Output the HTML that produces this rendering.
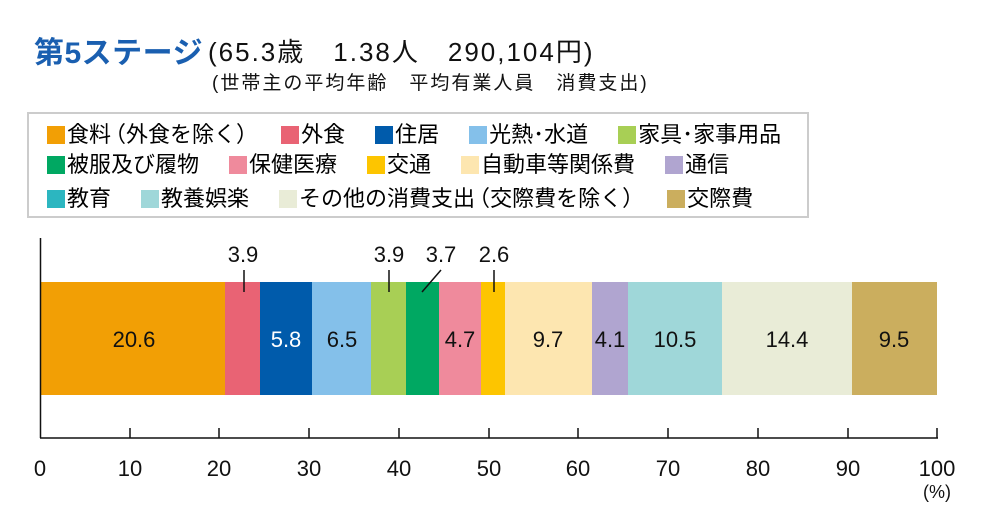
<!DOCTYPE html>
<html><head><meta charset="utf-8"><style>
body{margin:0;width:1000px;height:530px;background:#fff;font-family:"Liberation Sans","Noto Sans CJK JP",sans-serif;overflow:hidden;position:relative}
.t{position:absolute;white-space:nowrap;color:#111}
.lg{position:absolute;left:27px;top:112px;width:782px;height:106px;border:2px solid #ccc;box-sizing:border-box}
.row{position:absolute;left:18px;font-size:22px;white-space:nowrap;line-height:24px}
.row>span{display:inline-block;margin-right:30px}
.row i{display:inline-block;width:18px;height:18px;vertical-align:-2px;margin-right:2px}
.l{font-family:"Noto Sans CJK JP",sans-serif;margin-left:-7px}
.r{font-family:"Noto Sans CJK JP",sans-serif;margin-right:-7px}
</style></head><body>
<div class="t" style="left:34px;top:28px;font-size:30px;font-weight:bold;color:#1a5fb0;letter-spacing:0.5px">第5ステージ</div>
<div class="t" style="left:208px;top:32px;font-size:26px;letter-spacing:2px">(65.3歳　1.38人　290,104円)</div>
<div class="t" style="left:212px;top:68px;font-size:19px;letter-spacing:2px">(世帯主の平均年齢　平均有業人員　消費支出)</div>
<div class="lg">
<div class="row" style="top:7px"><span><i style="background:#f29f05"></i>食料<span class="l">（</span>外食を除く<span class="r">）</span></span><span><i style="background:#e96374"></i>外食</span><span><i style="background:#005bab"></i>住居</span><span><i style="background:#84c0ea"></i>光熱･水道</span><span><i style="background:#a8cf55"></i>家具･家事用品</span></div>
<div class="row" style="top:39px"><span><i style="background:#00a862"></i>被服及び履物</span><span><i style="background:#ef8a9c"></i>保健医療</span><span><i style="background:#fdc500"></i>交通</span><span><i style="background:#fde6b0"></i>自動車等関係費</span><span><i style="background:#b0a5d0"></i>通信</span></div>
<div class="row" style="top:71px"><span><i style="background:#2cb6c0"></i>教育</span><span><i style="background:#9fd7d9"></i>教養娯楽</span><span><i style="background:#e9ecd7"></i>その他の消費支出<span class="l">（</span>交際費を除く<span class="r">）</span></span><span><i style="background:#cbae5e"></i>交際費</span></div>
</div>
<svg width="1000" height="530" style="position:absolute;left:0;top:0" font-family="Liberation Sans, sans-serif" font-size="22">
<rect x="40" y="282" width="185" height="113" fill="#f29f05"/>
<rect x="225" y="282" width="35" height="113" fill="#e96374"/>
<rect x="260" y="282" width="52" height="113" fill="#005bab"/>
<rect x="312" y="282" width="59" height="113" fill="#84c0ea"/>
<rect x="371" y="282" width="35" height="113" fill="#a8cf55"/>
<rect x="406" y="282" width="33" height="113" fill="#00a862"/>
<rect x="439" y="282" width="42" height="113" fill="#ef8a9c"/>
<rect x="481" y="282" width="24" height="113" fill="#fdc500"/>
<rect x="505" y="282" width="87" height="113" fill="#fde6b0"/>
<rect x="592" y="282" width="36" height="113" fill="#b0a5d0"/>
<rect x="628" y="282" width="94" height="113" fill="#9fd7d9"/>
<rect x="722" y="282" width="130" height="113" fill="#e9ecd7"/>
<rect x="852" y="282" width="85" height="113" fill="#cbae5e"/>
<g text-anchor="middle" fill="#111">
<text x="134" y="347">20.6</text>
<text x="286" y="347" fill="#fff">5.8</text>
<text x="342" y="347">6.5</text>
<text x="460" y="347">4.7</text>
<text x="548" y="347">9.7</text>
<text x="610" y="347">4.1</text>
<text x="675" y="347">10.5</text>
<text x="787" y="347">14.4</text>
<text x="894" y="347">9.5</text>
<text x="243" y="262">3.9</text>
<text x="389" y="262">3.9</text>
<text x="441" y="262">3.7</text>
<text x="494" y="262">2.6</text>
</g>
<g stroke="#111" stroke-width="1.5">
<line x1="244" y1="270" x2="244" y2="292"/>
<line x1="389" y1="270" x2="389" y2="292"/>
<line x1="441" y1="270" x2="422" y2="292"/>
<line x1="494" y1="270" x2="494" y2="292"/>
<line x1="40.5" y1="238" x2="40.5" y2="438"/>
<line x1="40" y1="438" x2="938" y2="438"/>
</g>
<g stroke="#111" stroke-width="1.5">
<line x1="130" y1="428" x2="130" y2="438"/><line x1="219" y1="428" x2="219" y2="438"/><line x1="309" y1="428" x2="309" y2="438"/><line x1="399" y1="428" x2="399" y2="438"/><line x1="489" y1="428" x2="489" y2="438"/><line x1="578" y1="428" x2="578" y2="438"/><line x1="668" y1="428" x2="668" y2="438"/><line x1="758" y1="428" x2="758" y2="438"/><line x1="848" y1="428" x2="848" y2="438"/><line x1="937" y1="428" x2="937" y2="438"/>
</g>
<g text-anchor="middle" fill="#111">
<text x="40" y="476">0</text><text x="130" y="476">10</text><text x="219" y="476">20</text><text x="309" y="476">30</text><text x="399" y="476">40</text><text x="489" y="476">50</text><text x="578" y="476">60</text><text x="668" y="476">70</text><text x="758" y="476">80</text><text x="848" y="476">90</text><text x="937" y="476">100</text>
<text x="937" y="498" font-size="18">(%)</text>
</g>
</svg>
</body></html>
